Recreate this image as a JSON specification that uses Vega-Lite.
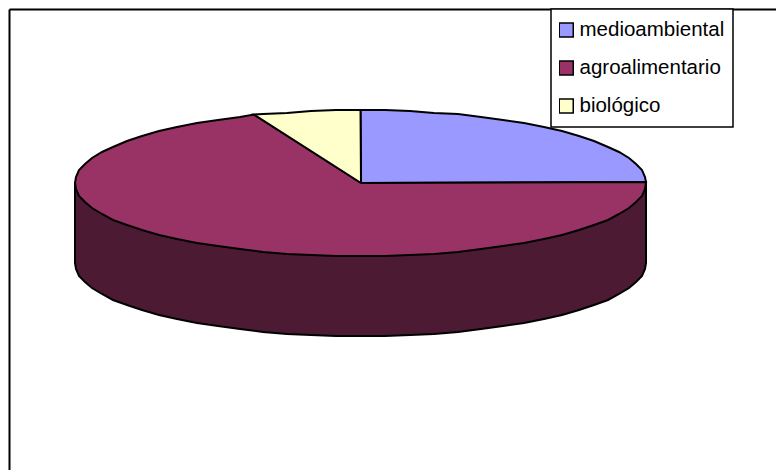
{
  "$schema": "https://vega.github.io/schema/vega-lite/v6.json",
  "width": 767,
  "height": 461,
  "padding": {"left": 9, "top": 9, "right": 0, "bottom": 0},
  "autosize": "none",
  "background": "white",
  "view": {"stroke": null},
  "config": {"font": "Liberation Sans", "legend": {"strokeWidth": 1.5}},
  "datasets": {
    "lateral": [
      {"i":0,"x":646,"y":183},{"i":1,"x":646,"y":263},{"i":2,"x":645,"y":269},{"i":3,"x":642,"y":276},{"i":4,"x":636,"y":282},{"i":5,"x":629,"y":288},{"i":6,"x":619,"y":294},{"i":7,"x":608,"y":300},{"i":8,"x":594,"y":305},{"i":9,"x":579,"y":310},{"i":10,"x":562,"y":315},{"i":11,"x":544,"y":319},{"i":12,"x":524,"y":323},{"i":13,"x":503,"y":326},{"i":14,"x":481,"y":329},{"i":15,"x":458,"y":332},{"i":16,"x":434,"y":334},{"i":17,"x":410,"y":335},{"i":18,"x":385,"y":336},{"i":19,"x":360.5,"y":336},{"i":20,"x":336,"y":336},{"i":21,"x":311,"y":335},{"i":22,"x":287,"y":334},{"i":23,"x":263,"y":332},{"i":24,"x":240,"y":329},{"i":25,"x":218,"y":326},{"i":26,"x":197,"y":323},{"i":27,"x":177,"y":319},{"i":28,"x":159,"y":315},{"i":29,"x":142,"y":310},{"i":30,"x":127,"y":305},{"i":31,"x":113,"y":300},{"i":32,"x":102,"y":294},{"i":33,"x":92,"y":288},{"i":34,"x":85,"y":282},{"i":35,"x":79,"y":276},{"i":36,"x":76,"y":269},{"i":37,"x":75,"y":263},{"i":38,"x":75,"y":183},{"i":39,"x":646,"y":183}
    ],
    "sectores": [
      {"sector":"medioambiental","i":0,"x":361,"y":183},{"sector":"medioambiental","i":1,"x":360.5,"y":110},{"sector":"medioambiental","i":2,"x":385,"y":110},{"sector":"medioambiental","i":3,"x":410,"y":111},{"sector":"medioambiental","i":4,"x":434,"y":113},{"sector":"medioambiental","i":5,"x":458,"y":114},{"sector":"medioambiental","i":6,"x":481,"y":117},{"sector":"medioambiental","i":7,"x":503,"y":120},{"sector":"medioambiental","i":8,"x":524,"y":123},{"sector":"medioambiental","i":9,"x":544,"y":127},{"sector":"medioambiental","i":10,"x":562,"y":131},{"sector":"medioambiental","i":11,"x":579,"y":136},{"sector":"medioambiental","i":12,"x":594,"y":141},{"sector":"medioambiental","i":13,"x":608,"y":147},{"sector":"medioambiental","i":14,"x":619,"y":152},{"sector":"medioambiental","i":15,"x":629,"y":158},{"sector":"medioambiental","i":16,"x":636,"y":164},{"sector":"medioambiental","i":17,"x":642,"y":170},{"sector":"medioambiental","i":18,"x":645,"y":177},{"sector":"medioambiental","i":19,"x":646,"y":182},{"sector":"medioambiental","i":20,"x":361,"y":183},
      {"sector":"agroalimentario","i":0,"x":361,"y":183},{"sector":"agroalimentario","i":1,"x":646,"y":182},{"sector":"agroalimentario","i":2,"x":645,"y":189},{"sector":"agroalimentario","i":3,"x":642,"y":196},{"sector":"agroalimentario","i":4,"x":636,"y":202},{"sector":"agroalimentario","i":5,"x":629,"y":208},{"sector":"agroalimentario","i":6,"x":619,"y":214},{"sector":"agroalimentario","i":7,"x":608,"y":220},{"sector":"agroalimentario","i":8,"x":594,"y":225},{"sector":"agroalimentario","i":9,"x":579,"y":230},{"sector":"agroalimentario","i":10,"x":562,"y":235},{"sector":"agroalimentario","i":11,"x":544,"y":239},{"sector":"agroalimentario","i":12,"x":524,"y":243},{"sector":"agroalimentario","i":13,"x":503,"y":246},{"sector":"agroalimentario","i":14,"x":481,"y":249},{"sector":"agroalimentario","i":15,"x":458,"y":252},{"sector":"agroalimentario","i":16,"x":434,"y":254},{"sector":"agroalimentario","i":17,"x":410,"y":255},{"sector":"agroalimentario","i":18,"x":385,"y":256},{"sector":"agroalimentario","i":19,"x":360.5,"y":256},{"sector":"agroalimentario","i":20,"x":336,"y":256},{"sector":"agroalimentario","i":21,"x":311,"y":255},{"sector":"agroalimentario","i":22,"x":287,"y":254},{"sector":"agroalimentario","i":23,"x":263,"y":252},{"sector":"agroalimentario","i":24,"x":240,"y":249},{"sector":"agroalimentario","i":25,"x":218,"y":246},{"sector":"agroalimentario","i":26,"x":197,"y":243},{"sector":"agroalimentario","i":27,"x":177,"y":239},{"sector":"agroalimentario","i":28,"x":159,"y":235},{"sector":"agroalimentario","i":29,"x":142,"y":230},{"sector":"agroalimentario","i":30,"x":127,"y":225},{"sector":"agroalimentario","i":31,"x":113,"y":220},{"sector":"agroalimentario","i":32,"x":102,"y":214},{"sector":"agroalimentario","i":33,"x":92,"y":208},{"sector":"agroalimentario","i":34,"x":85,"y":202},{"sector":"agroalimentario","i":35,"x":79,"y":196},{"sector":"agroalimentario","i":36,"x":76,"y":189},{"sector":"agroalimentario","i":37,"x":75,"y":183},{"sector":"agroalimentario","i":38,"x":76,"y":177},{"sector":"agroalimentario","i":39,"x":79,"y":170},{"sector":"agroalimentario","i":40,"x":85,"y":164},{"sector":"agroalimentario","i":41,"x":92,"y":158},{"sector":"agroalimentario","i":42,"x":102,"y":152},{"sector":"agroalimentario","i":43,"x":113,"y":147},{"sector":"agroalimentario","i":44,"x":127,"y":141},{"sector":"agroalimentario","i":45,"x":142,"y":136},{"sector":"agroalimentario","i":46,"x":159,"y":131},{"sector":"agroalimentario","i":47,"x":177,"y":127},{"sector":"agroalimentario","i":48,"x":197,"y":123},{"sector":"agroalimentario","i":49,"x":218,"y":120},{"sector":"agroalimentario","i":50,"x":240,"y":117},{"sector":"agroalimentario","i":51,"x":254,"y":114.5},{"sector":"agroalimentario","i":52,"x":361,"y":183},
      {"sector":"biológico","i":0,"x":361,"y":183},{"sector":"biológico","i":1,"x":254,"y":114.5},{"sector":"biológico","i":2,"x":263,"y":114},{"sector":"biológico","i":3,"x":287,"y":113},{"sector":"biológico","i":4,"x":311,"y":111},{"sector":"biológico","i":5,"x":336,"y":110},{"sector":"biológico","i":6,"x":360.5,"y":110},{"sector":"biológico","i":7,"x":361,"y":183}
    ]
  },
  "encoding": {
    "x": {"field": "x", "type": "quantitative", "scale": {"domain": [9, 776], "nice": false, "zero": false},
      "axis": {"orient": "top", "title": null, "labels": false, "ticks": false, "grid": false, "domainColor": "black", "domainWidth": 2}},
    "y": {"field": "y", "type": "quantitative", "scale": {"domain": [470, 9], "nice": false, "zero": false},
      "axis": {"orient": "left", "title": null, "labels": false, "ticks": false, "grid": false, "domainColor": "black", "domainWidth": 2}},
    "order": {"field": "i", "type": "quantitative"}
  },
  "layer": [
    {
      "data": {"name": "lateral"},
      "mark": {"type": "line", "fill": "#4D1A33", "stroke": "black", "strokeWidth": 2}
    },
    {
      "data": {"name": "sectores"},
      "mark": {"type": "line", "stroke": "black", "strokeWidth": 2},
      "encoding": {
        "fill": {
          "field": "sector",
          "type": "nominal",
          "scale": {"domain": ["medioambiental", "agroalimentario", "biológico"], "range": ["#9999FF", "#993366", "#FFFFCC"]},
          "legend": {
            "title": null, "orient": "none", "legendX": 542, "legendY": 0,
            "fillColor": "white", "strokeColor": "black", "padding": 8,
            "symbolType": "square", "symbolSize": 196, "symbolStrokeColor": "black", "symbolStrokeWidth": 1.5, "symbolOffset": -3,
            "clipHeight": 26,
            "labelFont": "Liberation Sans", "labelFontSize": 20.5, "labelColor": "black", "labelOffset": 3, "rowPadding": 12, "labelLimit": 200
          }
        }
      }
    }
  ]
}
